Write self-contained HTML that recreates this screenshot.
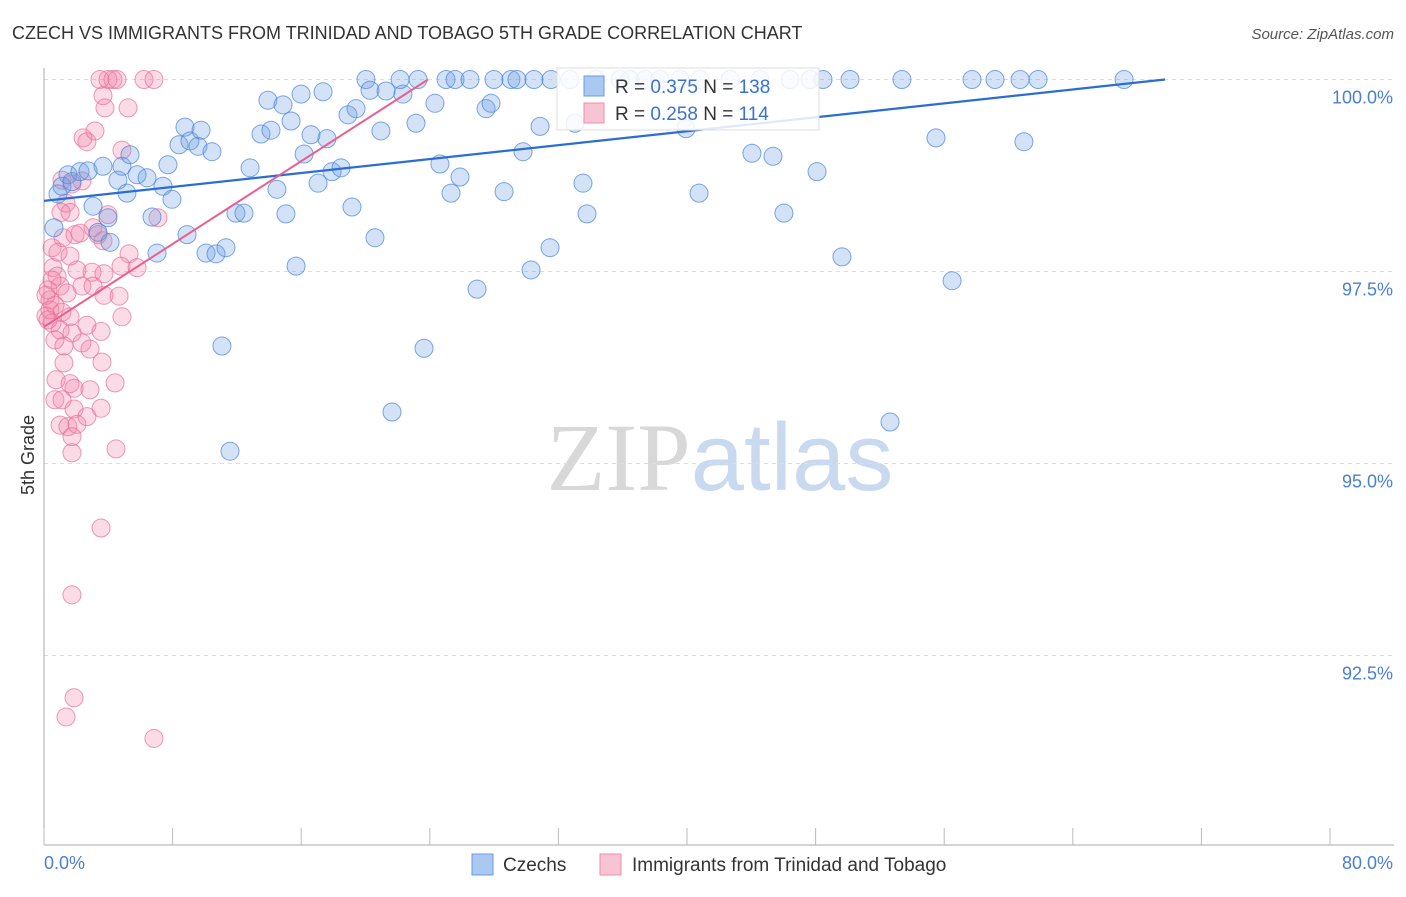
<!DOCTYPE html>
<html><head><meta charset="utf-8"><style>
body{margin:0;background:#fff;font-family:"Liberation Sans",sans-serif}
svg text{font-family:"Liberation Sans",sans-serif}
</style></head><body>
<svg id="chart" width="1406" height="892" xmlns="http://www.w3.org/2000/svg">
<text x="12" y="39" font-size="18" fill="#333">CZECH VS IMMIGRANTS FROM TRINIDAD AND TOBAGO 5TH GRADE CORRELATION CHART</text>
<text x="1394" y="39" font-size="15" fill="#555" text-anchor="end" font-style="italic">Source: ZipAtlas.com</text>
<text x="720" y="490" font-size="96" text-anchor="middle"><tspan fill="#d8d8d8" font-family="Liberation Serif">ZIP</tspan><tspan fill="#c9d9f0">atlas</tspan></text>
<g id="grid"></g>
<g id="axes"></g>
<g id="pink"></g>
<g id="blue"></g>
<g id="lines"></g>
<text transform="translate(34,455) rotate(-90)" font-size="18" fill="#333" text-anchor="middle">5th Grade</text>
<g>
<rect x="557" y="68" width="262" height="62" fill="#fff" fill-opacity="0.85" stroke="#ddd"/>
<rect x="584" y="76" width="20" height="20" fill="#aac8f0" stroke="#6b9be0"/>
<rect x="584" y="103" width="20" height="20" fill="#f8c4d4" stroke="#eb8fae"/>
<text x="615" y="93" font-size="19" fill="#333">R = <tspan fill="#3a72d0">0.375</tspan>   N = <tspan fill="#3a72d0">138</tspan></text>
<text x="615" y="120" font-size="19" fill="#333">R = <tspan fill="#3a72d0">0.258</tspan>   N = <tspan fill="#3a72d0">114</tspan></text>
</g>
<g>
<rect x="472" y="854" width="21" height="21" fill="#aac8f0" stroke="#6b9be0"/>
<text x="503" y="871" font-size="19" fill="#333">Czechs</text>
<rect x="600" y="854" width="21" height="21" fill="#f8c4d4" stroke="#eb8fae"/>
<text x="632" y="871" font-size="19" fill="#333">Immigrants from Trinidad and Tobago</text>
</g>
</svg>
<script>
const blueX=[0.62,0.87,1.12,1.49,1.74,2.24,2.74,3.05,3.36,3.67,4.11,3.98,4.60,4.85,5.16,5.35,5.79,6.41,6.72,7.03,7.40,7.71,7.96,8.40,8.77,8.90,9.08,9.58,9.77,10.08,10.45,10.70,11.32,11.07,11.57,11.94,12.44,12.82,13.50,13.93,14.12,14.49,14.87,15.05,15.37,15.68,15.99,16.18,16.61,17.05,17.36,17.60,17.92,18.48,18.91,19.16,19.41,20.03,20.28,20.59,20.96,21.28,21.65,22.33,22.15,23.14,23.27,23.64,24.32,24.63,25.01,25.32,25.57,25.88,26.50,26.94,27.50,27.81,27.99,28.62,29.05,29.42,29.80,30.30,30.48,30.86,31.48,31.54,33.03,33.53,33.78,34.34,35.83,36.45,37.39,38.32,39.94,40.75,40.81,42.68,44.04,45.35,46.03,46.41,48.09,48.46,49.64,50.14,52.63,53.37,55.49,56.49,57.73,59.16,60.72,60.96,61.84,67.19,32.72,39.56,44.54,47.65];
const blueY=[98.07,98.51,98.61,98.76,98.67,98.80,98.81,98.35,98.01,98.87,97.88,98.20,98.69,98.87,98.52,99.02,98.76,98.72,98.21,97.74,98.61,98.89,98.44,99.15,99.38,97.98,99.20,99.13,99.34,97.74,99.06,97.73,97.81,96.53,95.16,98.26,98.26,98.85,99.29,99.73,99.34,98.57,99.67,98.25,99.46,97.57,99.81,99.03,99.28,98.65,99.84,99.23,98.80,98.85,99.54,98.34,99.62,100,99.86,97.94,99.33,99.85,95.67,99.81,100,99.43,100,96.50,99.69,98.90,100,98.52,100,98.73,100,97.27,99.62,99.69,100,98.54,100,100,99.06,97.52,100,99.39,97.81,100,99.43,98.65,98.25,100,100,100,100,100,99.36,98.52,100,100,99.04,99.00,98.26,100,98.80,100,97.69,100,95.54,100,99.24,97.38,100,100,100,99.19,100,100,100,100,100,100];
const pinkX=[3.48,3.98,4.29,4.54,6.22,6.84,3.67,3.79,5.23,2.43,2.67,3.17,4.85,1.12,1.74,2.36,1.37,1.62,1.06,3.98,7.09,3.05,3.36,1.18,1.93,2.24,0.50,0.87,1.62,3.67,5.29,2.05,2.99,3.73,4.79,5.79,0.56,0.81,1.00,1.43,2.36,3.05,3.73,4.67,0.37,0.68,1.12,1.62,0.12,0.50,1.00,1.74,2.67,3.55,4.85,0.68,1.24,2.36,2.86,3.61,1.24,0.75,1.62,1.87,2.86,4.42,0.68,1.12,1.87,3.55,1.00,1.49,2.05,2.67,1.74,4.48,1.74,3.55,1.74,1.87,1.37,6.84,0.25,0.37,0.12,0.50,0.25];
const pinkY=[100,100,100,100,100,100,99.79,99.63,99.63,99.24,99.19,99.33,99.08,98.69,98.64,98.68,98.39,98.27,98.27,98.24,98.20,98.07,97.98,97.94,97.98,98.00,97.81,97.75,97.70,97.90,97.73,97.52,97.49,97.47,97.57,97.55,97.55,97.44,97.31,97.22,97.31,97.31,97.19,97.18,97.13,97.06,96.97,96.91,96.92,96.83,96.74,96.70,96.80,96.72,96.91,96.61,96.53,96.57,96.49,96.32,96.31,96.09,96.04,95.98,95.96,96.05,95.83,95.83,95.71,95.72,95.50,95.48,95.51,95.61,95.35,95.19,95.14,94.16,93.29,91.95,91.70,91.42,97.26,97.00,97.19,97.39,96.87];
const yTicks=[100,97.5,95,92.5];
const yTickLabels=["100.0%","97.5%","95.0%","92.5%"];
const xTicks=[0,8,16,24,32,40,48,56,64,72,80];
const blueTrend=[[0,98.42],[69.74,100]];
const pinkTrend=[[0,96.78],[23.89,100]];
const NS="http://www.w3.org/2000/svg";
const X=v=>44+v*16.075, Y=v=>79.5+(100-v)*76.8;
function mk(t,a,p){const e=document.createElementNS(NS,t);for(const k in a)e.setAttribute(k,a[k]);p.appendChild(e);return e;}
const grid=document.getElementById('grid'),axes=document.getElementById('axes');
yTicks.forEach((t,i)=>{
 const l=mk('line',{x1:44,x2:1394,y1:Y(t),y2:Y(t),stroke:'#ddd','stroke-dasharray':'4,4'},grid);
 
 
 const tx=mk('text',{x:1393,y:Y(t)+24,'font-size':18,fill:'#4a7fd4','text-anchor':'end'},axes);
 tx.textContent=yTickLabels[i];
 
 
});
const ax=mk('line',{x1:44,x2:44,y1:68,y2:845,stroke:'#aaa'},axes);


const bx=mk('line',{x1:44,x2:1394,y1:845,y2:845,stroke:'#aaa'},axes);


xTicks.forEach(t=>{
 const l=mk('line',{x1:X(t),x2:X(t),y1:828,y2:845,stroke:'#bbb'},axes);
 
 
});
const x0=mk('text',{x:44,y:869,'font-size':18,fill:'#4a7fd4'},axes);x0.textContent=xTicks[0].toFixed(1)+'%';


const x1=mk('text',{x:1393,y:869,'font-size':18,fill:'#4a7fd4','text-anchor':'end'},axes);x1.textContent=xTicks[xTicks.length-1].toFixed(1)+'%';


const pg=document.getElementById('pink'),bg=document.getElementById('blue');
pinkX.forEach((v,i)=>{
 const c=mk('circle',{cx:X(v),cy:Y(pinkY[i]),r:9,fill:'rgba(240,130,165,0.28)',stroke:'rgba(232,110,150,0.7)','stroke-width':1},pg);
 
 
});
blueX.forEach((v,i)=>{
 const c=mk('circle',{cx:X(v),cy:Y(blueY[i]),r:9,fill:'rgba(110,160,230,0.3)',stroke:'rgba(70,130,220,0.7)','stroke-width':1},bg);
 
 
});
const lg=document.getElementById('lines');
const bl=mk('line',{x1:X(blueTrend[0][0]),y1:Y(blueTrend[0][1]),x2:X(blueTrend[1][0]),y2:Y(blueTrend[1][1]),stroke:'#2a6dd4','stroke-width':2.2},lg);


const pl=mk('line',{x1:X(pinkTrend[0][0]),y1:Y(pinkTrend[0][1]),x2:X(pinkTrend[1][0]),y2:Y(pinkTrend[1][1]),stroke:'#e8608e','stroke-width':2},lg);


</script>
</body></html>
